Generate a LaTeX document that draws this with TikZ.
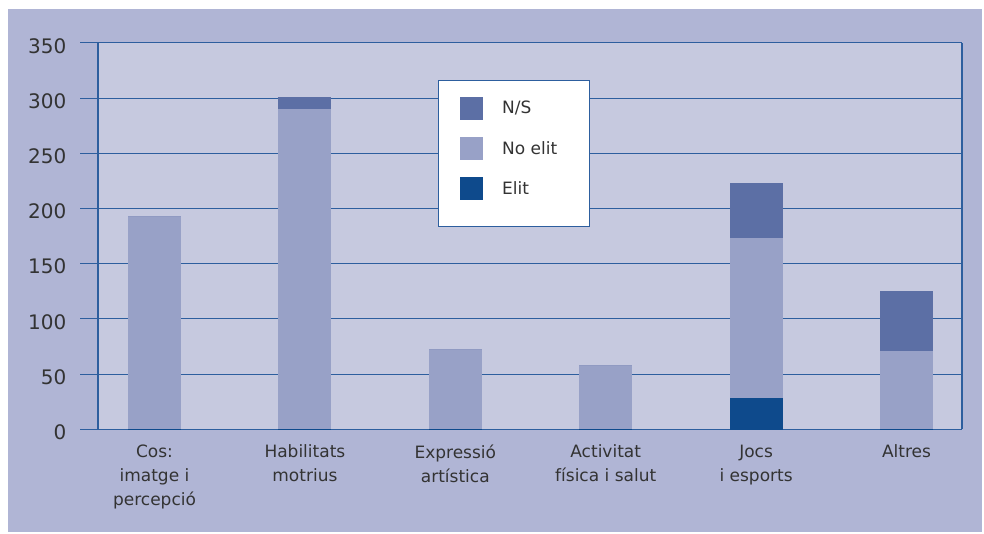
\documentclass[tikz,border=0pt]{standalone}
\usepackage{fontspec}
\setmainfont{DejaVu Sans}
\usepackage{tikz}

\definecolor{bgcol}{HTML}{B0B5D5}
\definecolor{plotcol}{HTML}{C6C9DF}
\definecolor{gridcol}{HTML}{2D5E9E}
\definecolor{nscol}{HTML}{5C6FA5}
\definecolor{nocol}{HTML}{98A1C7}
\definecolor{elitcol}{HTML}{0E4A8C}
\definecolor{txtcol}{HTML}{333333}

\tikzset{
  lbl/.style={text=txtcol, inner sep=0pt},
  ticklbl/.style={lbl, anchor=east, font=\fontsize{20}{24}\selectfont},
  catlbl/.style={lbl, anchor=north, align=center},
  keybox/.style={minimum size=23pt, inner sep=0pt}
}

\begin{document}
\begin{tikzpicture}[x=1pt, y=-1pt, font=\fontsize{17}{24}\selectfont]
\useasboundingbox (0,0) rectangle (984,533);
\fill[bgcol] (8,9) rectangle (982,532);
\fill[plotcol] (98,43) rectangle (962,429.3);

\foreach \v in {0,50,...,350}{
  \draw[gridcol, line width=1.1pt] (80,{429.3-1.104*\v}) -- (962,{429.3-1.104*\v});
  \node[ticklbl] (tick\v) at (66.5,{432.3-1.104*\v}) {\v};
}
\draw[gridcol, line width=1.1pt] (98,43) -- (98,429.3);
\draw[gridcol, line width=1.1pt] (962,43) -- (962,429.3);

\foreach \i/\e/\n/\s in {0/0/193/0, 1/0/290/11, 2/0/73/0, 3/0/58/0, 4/28/145/50, 5/0/71/54}{
  \pgfmathsetmacro{\cx}{154.5+150.4*\i}
  \pgfmathsetmacro{\ya}{429.3-1.104*\e}
  \pgfmathsetmacro{\yb}{429.3-1.104*(\e+\n)}
  \pgfmathsetmacro{\yc}{429.3-1.104*(\e+\n+\s)}
  \fill[elitcol] (\cx-26.5,430) rectangle (\cx+26.5,\ya);
  \fill[nocol] (\cx-26.5,\ya) rectangle (\cx+26.5,\yb);
  \fill[nscol] (\cx-26.5,\yb) rectangle (\cx+26.5,\yc);
}

\node[catlbl] (cos) at (154.5,444.5) {Cos:\\imatge i\\percepció};
\node[catlbl] (hab) at (304.9,444.5) {Habilitats\\motrius};
\node[catlbl] (exp) at (455.3,444.5) {Expressió\\artística};
\node[catlbl] (act) at (605.7,444.5) {Activitat\\física i salut};
\node[catlbl] (jocs) at (756.1,444.5) {Jocs\\i esports};
\node[catlbl] (alt) at (906.5,444.5) {Altres};

\node[draw=gridcol, fill=white, line width=1pt, minimum width=151pt, minimum height=146pt, inner sep=0pt] (legend) at (513.5,153) {};
\node[keybox, fill=nscol] (kns) at (471.5,108) {};
\node[keybox, fill=nocol] (kno) at (471.5,148) {};
\node[keybox, fill=elitcol] (kelit) at (471.5,188) {};
\node[lbl, anchor=west] (lns) at (502,108) {N/S};
\node[lbl, anchor=west] (lno) at (502,148) {No elit};
\node[lbl, anchor=west] (lelit) at (502,188) {Elit};
\end{tikzpicture}
\end{document}
